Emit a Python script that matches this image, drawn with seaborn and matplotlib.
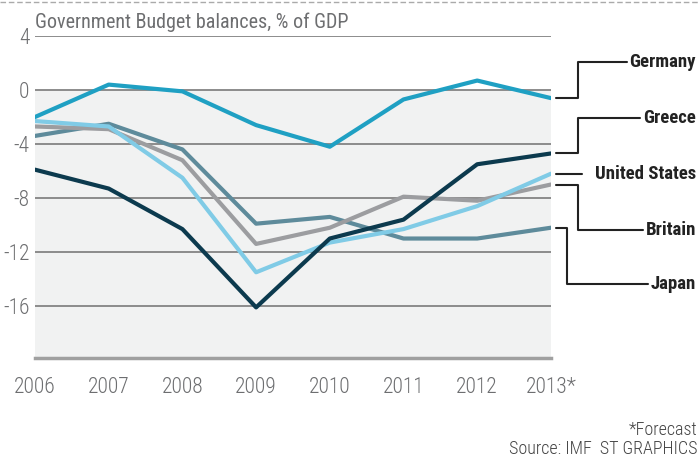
import numpy as np
import pandas as pd
import matplotlib as mpl
import matplotlib.pyplot as plt
import seaborn as sns
from matplotlib.lines import Line2D

years = [2006, 2007, 2008, 2009, 2010, 2011, 2012, 2013]
year_labels = ["2006", "2007", "2008", "2009", "2010", "2011", "2012", "2013*"]
y_ticks = [4, 0, -4, -8, -12, -16]

germany = [-2.0, 0.4, -0.1, -2.6, -4.2, -0.7, 0.7, -0.6]
greece = [-5.9, -7.3, -10.3, -16.1, -11.0, -9.6, -5.5, -4.7]
united_states = [-2.3, -2.7, -6.5, -13.5, -11.3, -10.3, -8.6, -6.2]
britain = [-2.7, -2.9, -5.2, -11.4, -10.2, -7.9, -8.2, -7.0]
japan = [-3.4, -2.5, -4.4, -9.9, -9.4, -11.0, -11.0, -10.2]

countries = ["Germany", "Greece", "United States", "Britain", "Japan"]
colors = {"Germany": "#1fa0c3", "Greece": "#0c3a4e", "United States": "#80cbe6",
          "Britain": "#9c9da0", "Japan": "#5e8b9b"}
# where each right-hand label sits (data units)
label_pos = {"Germany": 2.05, "Greece": -2.1, "United States": -6.2,
             "Britain": -10.35, "Japan": -14.4}

series = {"Germany": germany, "Greece": greece, "United States": united_states,
          "Britain": britain, "Japan": japan}
rows = []
for c in countries:
    for y, v in zip(years, series[c]):
        rows.append({"year": y, "value": v, "country": c})
df = pd.DataFrame(rows)

sns.set_style("white")
plt.rcParams["font.family"] = ["Roboto Condensed", "DejaVu Sans"]
grey_txt = "#6d6e70"

fig = plt.figure(figsize=(7, 4.58), dpi=100)
ax = fig.add_axes([0.05, 0.2183, 0.737, 0.7031])

ymin, ymax = -19.85, 4
ax.axhspan(ymin, 0, color="#f1f2f2", zorder=0, lw=0)
for g in y_ticks:
    ax.axhline(g, color="#8c8c8c", lw=1.4, zorder=1)

order = ["Japan", "Britain", "United States", "Greece", "Germany"]
sns.lineplot(data=df, x="year", y="value", hue="country", hue_order=order,
             palette=colors, lw=3.0, legend=False, ax=ax, zorder=3)

ax.set_xlim(2006, 2013)
ax.set_ylim(ymin, ymax)
ax.set_xticks(years)
ax.set_xticklabels(year_labels)
ax.set_yticks(y_ticks)
ax.set_yticklabels([str(t) for t in y_ticks])
ax.set_xlabel("")
ax.set_ylabel("")
for s in ["top", "right", "left"]:
    ax.spines[s].set_visible(False)
ax.spines["bottom"].set_color("#a0a0a0")
ax.spines["bottom"].set_linewidth(2.5)
ax.tick_params(axis="x", length=10, width=2.2, color="#a0a0a0", direction="out",
               labelsize=15.5, labelcolor=grey_txt, pad=4)
ax.tick_params(axis="y", length=0, labelsize=15.5, labelcolor=grey_txt, pad=4)
for lab in ax.get_xticklabels() + ax.get_yticklabels():
    lab.set_fontweight(300)

# labels on the right, then leader lines that stop just before each label
fig.canvas.draw()
renderer = fig.canvas.get_renderer()
inv = ax.transData.inverted()
end_x = 2013.07
for c in countries:
    ly = label_pos[c]
    t = ax.text(2014.97, ly, c, ha="right", va="center", fontsize=13.5,
                fontweight="bold", color="#222222", clip_on=False)
    bb = t.get_window_extent(renderer)
    stop = inv.transform((bb.x0 - 3, 0))[0]
    v = series[c][-1]
    if c == "United States":
        xs, ys = [end_x, 2013.42], [ly, ly]
    else:
        kx = 2013.22 if c == "Japan" else 2013.37
        xs, ys = [end_x, kx, kx, stop], [v, v, ly, ly]
    ax.add_line(Line2D(xs, ys, color="#222222", lw=1.5, clip_on=False))

fig.text(0.05, 0.952, "Government Budget balances, % of GDP", ha="left",
         va="center", fontsize=14.5, color=grey_txt)
fig.add_artist(Line2D([0, 1], [0.996, 0.996], color="#aaaaaa", lw=1, ls=(0, (4, 2))))
fig.text(0.996, 0.062, "*Forecast", ha="right", va="center", fontsize=13,
         color="#444444", fontweight=300)
fig.text(0.996, 0.02, "Source: IMF  ST GRAPHICS", ha="right", va="center",
         fontsize=13, color="#444444", fontweight=300)

fig.savefig("out.png", dpi=100)
